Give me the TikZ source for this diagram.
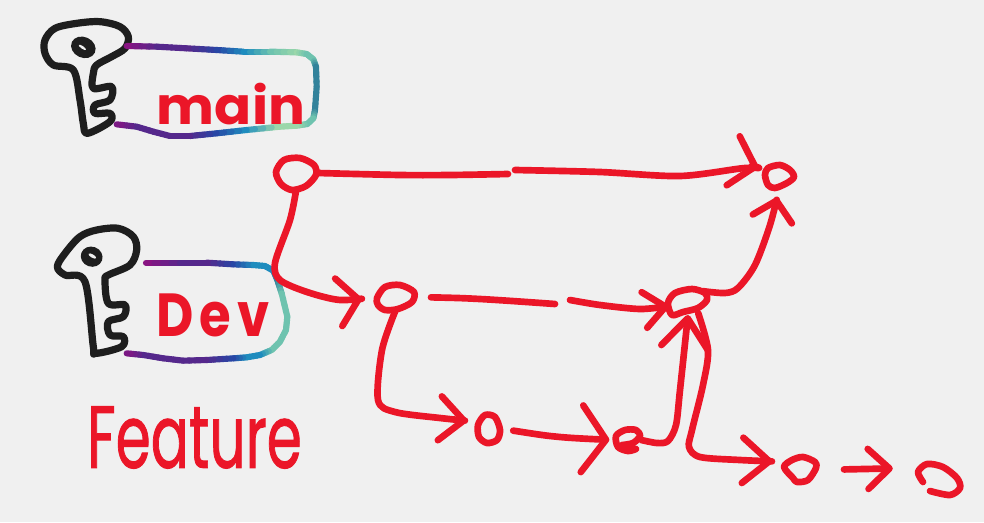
\documentclass[tikz,border=0pt]{standalone}
\usepackage{fontspec}
\usetikzlibrary{arrows.meta,calc,shapes.geometric}
\newfontfamily\handfont{Poppins}
\newfontfamily\handfat[FakeBold=1.2]{Poppins}
\newfontfamily\handwide[LetterSpace=12]{Poppins}
\definecolor{bgc}{HTML}{F0F0F0}
\definecolor{inkred}{HTML}{EB1628}
\definecolor{inkblack}{HTML}{1E1E1E}
\definecolor{bmag}{RGB}{136,20,130}
\definecolor{bpur}{RGB}{85,40,140}
\definecolor{bblu}{RGB}{40,70,165}
\definecolor{bcya}{RGB}{30,140,190}
\definecolor{bteal}{RGB}{50,130,155}
\definecolor{bsea}{RGB}{110,195,175}
\definecolor{bmin}{RGB}{155,215,170}
\tikzset{
  ink/.style={line width=5pt,line cap=round,line join=round,color=inkred},
  keyline/.style={line width=5.4pt,line cap=round,line join=round,color=inkblack},
  bandseg/.style={line width=4.6pt,line cap=round},
  anchorellipse/.style={ellipse,inner sep=0pt,outer sep=0pt},
  barb/.style 2 args={-{Straight Barb[round,length=#1pt,width=#2pt]}},
  label/.style={inner sep=0pt,outer sep=0pt,text=inkred},
}
\newcommand{\gradband}[1]{%
  \foreach \gx/\gy/\gc [count=\gi, remember=\gx as \px, remember=\gy as \py, remember=\gc as \pc] in {#1}{%
    \ifnum\gi>1
      \foreach \gt in {0,25,50,75}{%
        \pgfmathsetmacro{\gu}{\gt/100}\pgfmathsetmacro{\gv}{\gu+.25}%
        \draw[bandseg,color=\gc!\gt!\pc] ($(\px,\py)!\gu!(\gx,\gy)$) -- ($(\px,\py)!\gv!(\gx,\gy)$);
      }%
    \fi
  }%
}
\begin{document}
\begin{tikzpicture}[x=.75pt,y=-.75pt]
\useasboundingbox (0,0) rectangle (984,522);
\fill[bgc] (0,0) rectangle (984,522);

% --- main key and band
\begin{scope}[shift={(30,10)},scale=0.33333]
  \draw[keyline] plot[smooth cycle,tension=.55] coordinates {(130,180) (70,165) (45,130) (45,90) (75,55) (140,40) (210,35) (270,50) (295,80) (285,115) (245,140) (200,165) (190,190) (190,235) (245,230) (240,270) (195,285) (195,310) (240,310) (240,335) (172,370) (160,340) (150,270)};
  \fill[inkblack,rotate around={-25:(160,112)}] (160,112) ellipse [x radius=38,y radius=31];
  \fill[bgc,rotate around={-35:(157,112)}] (157,112) ellipse [x radius=13,y radius=4];
  \gradband{290/108/bmag,380/110/bpur,470/115/bpur,560/120/bblu,640/125/bcya,720/125/bsea,800/127/bmin,830/132/bsea,850/148/bsea,858/170/bteal,860/230/bteal,855/300/bteal,850/325/bsea,832/342/bsea,800/347/bmin,750/350/bmin,650/360/bcya,560/370/bblu,480/378/bpur,420/378/bpur,370/365/bpur,320/350/bpur,260/343/bmag}
\end{scope}

% --- Dev key and band
\begin{scope}[shift={(40,220)},scale=0.33333]
  \draw[keyline] plot[smooth cycle,tension=.55] coordinates {(135,185) (75,165) (52,140) (75,100) (120,50) (170,30) (235,25) (280,50) (290,90) (270,135) (205,165) (195,180) (205,250) (255,255) (250,290) (205,305) (210,345) (250,350) (245,380) (168,400) (160,380)};
  \fill[inkblack,rotate around={-20:(155,110)}] (155,110) ellipse [x radius=33,y radius=30];
  \fill[bgc,rotate around={-30:(157,108)}] (157,108) ellipse [x radius=13,y radius=5];
  \gradband{318/128/bmag,420/128/bpur,500/128/bpur,580/133/bblu,640/135/bcya,675/138/bcya,700/152/bcya,712/180/bteal,725/220/bsea,742/290/bsea,738/330/bsea,720/365/bsea,695/390/bsea,660/405/bcya,620/412/bcya,580/415/bblu,500/420/bpur,430/422/bpur,370/415/bpur,310/405/bpur,260/400/bmag}
\end{scope}

% --- labels
\node[label] (lmain) at (231,104.5) {\resizebox{111pt}{31pt}{\handfont\bfseries main}};
\node[label] (ldev) at (213,315.5) {\resizebox{85pt}{32pt}{\handwide\bfseries Dev}};
\node[label] (lfeat) at (194.5,437.5) {\resizebox{161pt}{46pt}{\handfat Feature}};

% --- commit nodes (anchors) and their hand-drawn outlines
\node[anchorellipse,minimum width=33pt,minimum height=27pt] (n1) at (296,173) {};
\node[anchorellipse,minimum width=24pt,minimum height=19pt] (n2) at (779,177) {};
\node[anchorellipse,minimum width=32pt,minimum height=22pt] (n3) at (395,297) {};
\node[anchorellipse,minimum width=31pt,minimum height=21pt] (n4) at (688,301) {};
\node[anchorellipse,minimum width=22pt,minimum height=24pt] (n5) at (488,429) {};
\node[anchorellipse,minimum width=20pt,minimum height=19pt] (n6) at (628,440) {};
\node[anchorellipse,minimum width=26pt,minimum height=21pt] (n7) at (800,470) {};
\node[anchorellipse,minimum width=33pt,minimum height=26pt] (n8) at (939,480) {};
\draw[ink] plot[smooth cycle] coordinates {(276,172) (284,160) (300,158) (314,165) (316,175) (306,186) (292,190) (281,184)};
\draw[ink] plot[smooth cycle] coordinates {(765,175) (768,168) (780,165) (790,170) (794,177) (787,183) (775,188) (768,185)};
\draw[ink] plot[smooth cycle] coordinates {(377,298) (385,287) (400,285) (414,292) (412,302) (398,309) (385,310) (378,305)};
\draw[ink] plot[smooth cycle] coordinates {(668,303) (675,293) (692,289) (705,293) (707,300) (698,308) (683,312) (672,315)};
\draw[ink] plot[smooth cycle] coordinates {(478,425) (485,415) (495,417) (500,430) (497,440) (487,443) (479,437)};
\draw[ink] plot[smooth] coordinates {(622,445) (633,443) (640,436) (636,430) (625,430) (616,436) (618,447) (628,451) (636,449)};
\draw[ink] plot[smooth cycle] coordinates {(784,467) (792,460) (803,457) (815,462) (816,468) (808,480) (797,482) (793,478)};
\draw[ink] plot[smooth] coordinates {(923,482) (918,472) (927,464) (943,467) (957,478) (960,488) (950,495) (930,491)};

% --- gap points in the two broken strokes
\coordinate (gapA) at (508,174);
\coordinate (gapB) at (515,170);
\coordinate (gapC) at (555,304);
\coordinate (gapD) at (570,300);

% --- connectors
\draw[ink] plot[smooth] coordinates {(n1.east) (400,175) (450,175) (gapA)};
\draw[ink,barb={17}{38},shorten >=6pt] plot[smooth] coordinates {(gapB) (600,172) (680,176) (745,168) (n2.150)};
\draw[ink,barb={15}{36},shorten >=9pt] plot[smooth] coordinates {(n1.south) (290,220) (275,263) (280,280) (307,292) (340,300) (n3.west)};
\draw[ink,shorten <=11pt] plot[smooth] coordinates {(n3.east) (480,299) (gapC)};
\draw[ink,barb={16}{27},shorten >=0pt] plot[smooth] coordinates {(gapD) (600,305) (640,309) (n4.195)};
\draw[ink,barb={18}{33},shorten >=6pt] plot[smooth] coordinates {(n3.south) (382,350) (378,400) (395,412) (440,418) (n5.150)};
\draw[ink,shorten <=8pt,barb={18}{50},shorten >=4pt] plot[smooth] coordinates {(n5.east) (560,437) (n6.west)};
\draw[ink,barb={22}{35},shorten >=0pt] plot[smooth] coordinates {(n6.east) (657,443) (668,441) (676,425) (680,390) (n4.south)};
\draw[ink,barb={20}{34},shorten >=10pt] plot[smooth] coordinates {(n4.310) (708,350) (703,385) (692,430) (689,447) (700,457) (740,460) (n7.150)};
\draw[ink,shorten <=20pt,barb={16}{30},shorten >=23pt] (n7.east) -- (n8.north west);
\draw[ink,barb={14}{30},shorten >=6pt] plot[smooth] coordinates {(n4.north east) (725,293) (738,288) (755,265) (770,225) (n2.south)};
\end{tikzpicture}
\end{document}
